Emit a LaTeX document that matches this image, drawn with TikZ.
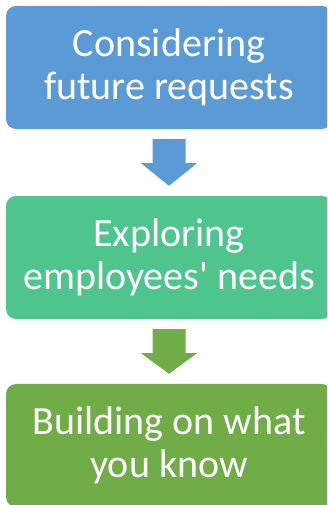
\documentclass[tikz,border=0pt]{standalone}
\usepackage{fontspec}
\setmainfont{Carlito}
\usetikzlibrary{calc}
\definecolor{stepblue}{HTML}{5B9BD5}
\definecolor{stepteal}{HTML}{4FC58E}
\definecolor{stepgreen}{HTML}{70AD47}
\begin{document}
\begin{tikzpicture}[x=1pt,y=1pt,
  stepbox/.style={rounded corners=10pt, minimum width=326pt, minimum height=123pt,
    inner sep=0pt, align=center, text=white,
    font=\fontsize{40}{43}\selectfont},
  downarrow/.style={fill=#1}]
\useasboundingbox (0,0) rectangle (327,505);
\clip (0,0) rectangle (327,505);
\node[stepbox, fill=stepblue] (b1) at (169,437.5) {Considering\\future requests};
\node[stepbox, fill=stepteal] (b2) at (169,247.5) {Exploring\\employees\textquotesingle{} needs};
\node[stepbox, fill=stepgreen] (b3) at (169,59.5) {Building on what\\you know};
% block arrows between the steps
\foreach \a/\b/\c in {b1/b2/stepblue, b2/b3/stepgreen}{
  \fill[downarrow=\c] ($(\a.south)+(-16.5,-10)$) -- ++(33,0) -- ++(0,-24)
    -- ++(11.5,0) -- ($(\b.north)+(0,10)$) -- ($(\a.south)+(-28,-34)$)
    -- ++(11.5,0) -- cycle;
}
\end{tikzpicture}
\end{document}
